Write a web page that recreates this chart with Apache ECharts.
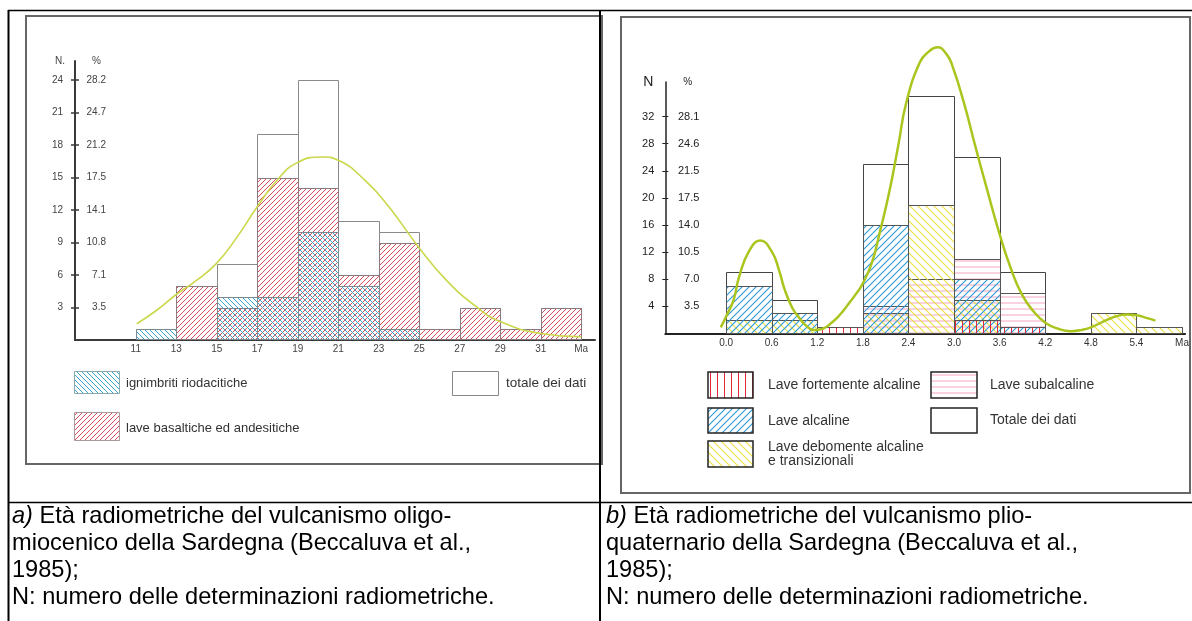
<!DOCTYPE html>
<html><head><meta charset="utf-8">
<script src="https://cdn.jsdelivr.net/npm/echarts@6/dist/echarts.min.js"></script>
<style>html,body{margin:0;padding:0;background:#fff}#c{width:1192px;height:621px}</style>
</head><body><div id="c"></div>
<script>
// ---------- chart a) oligo-miocenico ----------
var aBins = [11, 13, 15, 17, 19, 21, 23, 25, 27, 29, 31];
var aIgnimbriti = [1, 0, 4, 4, 10, 5, 1, 0, 0, 0, 0];
var aBasaltiche = [0, 5, 3, 15, 14, 6, 9, 1, 3, 1, 3];
var aTotale = [1, 5, 7, 19, 24, 11, 10, 1, 3, 1, 3];
var aCurve = [[11.05,1.5],[12,2.7],[13,4.2],[14,5.5],[15,7.1],[16,9.5],[17,12.3],[18,14.8],[19,16.4],[20.2,16.9],[21,16.6],[22.4,14.6],[23.5,12.3],[25,8.5],[26.3,5.6],[27.8,3.1],[29,1.7],[31,0.6],[33,0.3]];
var aXTicks = [11, 13, 15, 17, 19, 21, 23, 25, 27, 29, 31, 33];
var aNTicks = [3, 6, 9, 12, 15, 18, 21, 24];
var aPctLabels = ['3.5', '7.1', '10.8', '14.1', '17.5', '21.2', '24.7', '28.2'];

// ---------- chart b) plio-quaternario ----------
var bBins = [0, 0.6, 1.2, 1.8, 2.4, 3.0, 3.6, 4.2, 4.8, 5.4];
var bFortemente = [0, 0, 1, 0, 0, 2, 1, 0, 0, 0];
var bAlcaline = [7, 3, 0, 16, 0, 8, 1, 0, 0, 0];
var bDebolmente = [2, 2, 0, 3, 19, 5, 0, 0, 3, 1];
var bSubalcaline = [0, 0, 0, 4, 8, 11, 6, 0, 0, 0];
var bTotale = [9, 5, 1, 25, 35, 26, 9, 0, 3, 1];
var bCurve = [[-0.07,0.9],[0,2.5],[0.1,5],[0.17,8.3],[0.3,12.1],[0.45,13.7],[0.6,12.1],[0.7,9.2],[0.77,6.5],[0.87,3.8],[0.95,2.5],[1.05,1.2],[1.16,0.5],[1.27,0.7],[1.38,1.5],[1.5,2.8],[1.6,4.2],[1.7,5.7],[1.8,7.4],[1.92,10.5],[2.02,14.8],[2.15,21],[2.27,28],[2.37,34],[2.55,40],[2.67,41.6],[2.78,42.2],[2.9,41.2],[2.98,39.4],[3.13,34],[3.28,27.6],[3.44,21],[3.59,15],[3.74,9.8],[3.89,5.8],[4.05,3.2],[4.2,1.6],[4.37,0.7],[4.54,0.35],[4.67,0.5],[4.8,0.9],[5.01,2.0],[5.15,2.6],[5.27,2.8],[5.4,2.7],[5.53,2.3],[5.65,1.9]];
var bXTicks = [0, 0.6, 1.2, 1.8, 2.4, 3.0, 3.6, 4.2, 4.8, 5.4, 6.0];
var bNTicks = [4, 8, 12, 16, 20, 24, 28, 32];
var bPctLabels = ['3.5', '7.0', '10.5', '14.0', '17.5', '21.5', '24.6', '28.1'];

var FONT = '"Liberation Sans", Arial, Helvetica, sans-serif';

function hatch(type, color, size, lw) {
  var c = document.createElement('canvas'); c.width = size; c.height = size;
  var g = c.getContext('2d');
  g.clearRect(0, 0, size, size);
  g.strokeStyle = color; g.lineWidth = lw || 1;
  g.beginPath();
  if (type === '/') {
    g.moveTo(0, size); g.lineTo(size, 0);
    g.moveTo(-2, 2); g.lineTo(2, -2);
    g.moveTo(size - 2, size + 2); g.lineTo(size + 2, size - 2);
  } else if (type === '\\') {
    g.moveTo(0, 0); g.lineTo(size, size);
    g.moveTo(size - 2, -2); g.lineTo(size + 2, 2);
    g.moveTo(-2, size - 2); g.lineTo(2, size + 2);
  } else if (type === '|') {
    g.moveTo(size / 2, 0); g.lineTo(size / 2, size);
  } else if (type === '-') {
    g.moveTo(0, size / 2); g.lineTo(size, size / 2);
  }
  g.stroke();
  return { image: c, repeat: 'repeat' };
}

var pBlueA = hatch('\\', '#3ca5cd', 5, 1);
var pRedA = hatch('/', '#d84b5a', 5, 1);
var pRedV = hatch('|', '#e12a3a', 7, 1);
var pBlueB = hatch('/', '#2b9ad8', 7, 1.1);
var pYellow = hatch('\\', '#ebe146', 8, 1.2);
var pPink = hatch('-', '#f2a6c2', 6, 1);

function histSeries(xi, yi, bins, w, vals, fill, stroke, z, name) {
  return {
    type: 'custom', name: name, xAxisIndex: xi, yAxisIndex: yi, z: z, silent: true,
    data: bins.map(function (b, i) { return [b, vals[i]]; }),
    encode: { x: 0, y: 1 },
    renderItem: function (params, api) {
      var x0 = api.value(0), v = api.value(1);
      if (!v) return null;
      var p0 = api.coord([x0, v]), p1 = api.coord([x0 + w, 0]);
      var x = Math.round(p0[0]) + 0.5, y = Math.round(p0[1]) + 0.5;
      var x2 = Math.round(p1[0]) + 0.5, y2 = Math.round(p1[1]) - 0.5;
      return { type: 'rect', shape: { x: x, y: y, width: x2 - x, height: y2 - y },
        style: { fill: fill, stroke: stroke, lineWidth: 1 } };
    }
  };
}

var chart = echarts.init(document.getElementById('c'), null, { renderer: 'canvas' });

var axisLbl = function (color, size) { return { fontFamily: FONT, fontSize: size, color: color }; };

var option = {
  backgroundColor: '#fff',
  animation: false,
  grid: [
    { left: 75, top: 61, width: 520, height: 279 },
    { left: 665.3, top: 82, width: 527.4, height: 251.5 }
  ],
  xAxis: [
    { gridIndex: 0, type: 'value', min: 8, max: 33.68,
      axisLine: { onZero: false, lineStyle: { color: '#3a3a3a', width: 2 } },
      axisTick: { show: false }, splitLine: { show: false },
      axisLabel: Object.assign(axisLbl('#444', 10), { customValues: aXTicks, margin: 4,
        formatter: function (v) { return v === 33 ? 'Ma' : String(v); } }) },
    { gridIndex: 1, type: 'value', min: -0.8, max: 6.04,
      axisLine: { onZero: false, lineStyle: { color: '#222', width: 2 } },
      axisTick: { show: false }, splitLine: { show: false },
      axisLabel: Object.assign(axisLbl('#333', 10), { customValues: bXTicks, margin: 5,
        formatter: function (v) { return Math.abs(v - 6) < 1e-9 ? 'Ma' : v.toFixed(1); } }) }
  ],
  yAxis: [
    { gridIndex: 0, type: 'value', min: 0, max: 25.76, position: 'left',
      name: 'N.', nameLocation: 'end', nameGap: 0,
      nameTextStyle: { fontFamily: FONT, fontSize: 10, color: '#444', align: 'right', verticalAlign: 'middle', padding: [0, 10, 0, 0] },
      axisLine: { show: true, onZero: false, lineStyle: { color: '#3a3a3a', width: 2 } },
      axisTick: { show: true, customValues: aNTicks, length: 4, lineStyle: { color: '#3a3a3a', width: 1.5 } },
      splitLine: { show: false },
      axisLabel: Object.assign(axisLbl('#444', 10), { customValues: aNTicks, margin: 12 }) },
    { gridIndex: 0, type: 'value', min: 0, max: 25.76, position: 'left',
      name: '%', nameLocation: 'end', nameGap: 0,
      nameTextStyle: { fontFamily: FONT, fontSize: 10, color: '#444', align: 'left', verticalAlign: 'middle', padding: [0, 0, 0, 17] },
      axisLine: { show: false, onZero: false },
      axisTick: { show: true, inside: true, customValues: aNTicks, length: 4, lineStyle: { color: '#3a3a3a', width: 1.5 } },
      splitLine: { show: false },
      axisLabel: Object.assign(axisLbl('#444', 10), { customValues: aNTicks, inside: true, align: 'right', margin: 31,
        formatter: function (v) { return aPctLabels[aNTicks.indexOf(v)]; } }) },
    { gridIndex: 1, type: 'value', min: 0, max: 37.09, position: 'left',
      name: 'N', nameLocation: 'end', nameGap: 0,
      nameTextStyle: { fontFamily: FONT, fontSize: 14, color: '#222', align: 'right', verticalAlign: 'middle', padding: [0, 12, 0, 0] },
      axisLine: { show: true, onZero: false, lineStyle: { color: '#222', width: 1.5 } },
      axisTick: { show: true, customValues: bNTicks, length: 3, lineStyle: { color: '#222', width: 1 } },
      splitLine: { show: false },
      axisLabel: Object.assign(axisLbl('#222', 11), { customValues: bNTicks, margin: 11 }) },
    { gridIndex: 1, type: 'value', min: 0, max: 37.09, position: 'left',
      name: '%', nameLocation: 'end', nameGap: 0,
      nameTextStyle: { fontFamily: FONT, fontSize: 10, color: '#222', align: 'left', verticalAlign: 'middle', padding: [5, 0, 0, 18] },
      axisLine: { show: false, onZero: false },
      axisTick: { show: true, inside: true, customValues: bNTicks, length: 3, lineStyle: { color: '#222', width: 1 } },
      splitLine: { show: false },
      axisLabel: Object.assign(axisLbl('#222', 11), { customValues: bNTicks, inside: true, align: 'right', margin: 34,
        formatter: function (v) { return bPctLabels[bNTicks.indexOf(v)]; } }) }
  ],
  series: [
    histSeries(0, 0, aBins, 2, aTotale, '#fff', '#8a8a8a', 2, 'totale dei dati'),
    histSeries(0, 0, aBins, 2, aBasaltiche, pRedA, '#8a7a7e', 3, 'lave basaltiche ed andesitiche'),
    histSeries(0, 0, aBins, 2, aIgnimbriti, pBlueA, '#7a8a90', 4, 'ignimbriti riodacitiche'),
    { type: 'line', xAxisIndex: 0, yAxisIndex: 0, z: 10, data: aCurve, smooth: true, showSymbol: false, silent: true, clip: false,
      lineStyle: { color: '#cbd84c', width: 1.6 } },

    histSeries(1, 2, bBins, 0.6, bTotale, '#fff', '#444', 2, 'Totale dei dati'),
    histSeries(1, 2, bBins, 0.6, bSubalcaline, pPink, '#555', 3, 'Lave subalcaline'),
    histSeries(1, 2, bBins, 0.6, bDebolmente, pYellow, '#555', 4, 'Lave debomente alcaline e transizionali'),
    histSeries(1, 2, bBins, 0.6, bAlcaline, pBlueB, '#555', 5, 'Lave alcaline'),
    histSeries(1, 2, bBins, 0.6, bFortemente, pRedV, '#555', 6, 'Lave fortemente alcaline'),
    { type: 'line', xAxisIndex: 1, yAxisIndex: 2, z: 10, data: bCurve, smooth: true, showSymbol: false, silent: true, clip: false,
      lineStyle: { color: '#acc41e', width: 2.5 } }
  ],
  graphic: [
    // image frames
    { type: 'rect', shape: { x: 26, y: 16, width: 576, height: 448 }, style: { fill: 'none', stroke: '#666', lineWidth: 2 }, z: -1 },
    { type: 'rect', shape: { x: 621, y: 17, width: 569, height: 476 }, style: { fill: 'none', stroke: '#666', lineWidth: 2 }, z: -1 },
    // table lines
    { type: 'line', shape: { x1: 8, y1: 10.5, x2: 1192, y2: 10.5 }, style: { stroke: '#000', lineWidth: 1.5 } },
    { type: 'line', shape: { x1: 8.5, y1: 10, x2: 8.5, y2: 621 }, style: { stroke: '#000', lineWidth: 2 } },
    { type: 'line', shape: { x1: 600, y1: 10, x2: 600, y2: 621 }, style: { stroke: '#000', lineWidth: 2 } },
    { type: 'line', shape: { x1: 8, y1: 502.5, x2: 1192, y2: 502.5 }, style: { stroke: '#000', lineWidth: 1.5 } },

    // legend a
    { type: 'rect', shape: { x: 74.5, y: 371.5, width: 45, height: 22 }, style: { fill: pBlueA, stroke: '#8aa', lineWidth: 1 } },
    { type: 'text', x: 126, y: 383, style: { text: 'ignimbriti riodacitiche', font: '13px ' + FONT, fill: '#333', verticalAlign: 'middle' } },
    { type: 'rect', shape: { x: 74.5, y: 412.5, width: 45, height: 28 }, style: { fill: pRedA, stroke: '#a99', lineWidth: 1 } },
    { type: 'text', x: 126, y: 428, style: { text: 'lave basaltiche ed andesitiche', font: '13px ' + FONT, fill: '#333', verticalAlign: 'middle' } },
    { type: 'rect', shape: { x: 452.5, y: 371.5, width: 46, height: 24 }, style: { fill: '#fff', stroke: '#888', lineWidth: 1 } },
    { type: 'text', x: 506, y: 383, style: { text: 'totale dei dati', font: '13.5px ' + FONT, fill: '#333', verticalAlign: 'middle' } },

    // legend b
    { type: 'rect', shape: { x: 708, y: 372, width: 45, height: 26 }, style: { fill: pRedV, stroke: '#222', lineWidth: 1.5 } },
    { type: 'text', x: 768, y: 385, style: { text: 'Lave fortemente alcaline', font: '14px ' + FONT, fill: '#333', verticalAlign: 'middle' } },
    { type: 'rect', shape: { x: 708, y: 408, width: 45, height: 25 }, style: { fill: pBlueB, stroke: '#222', lineWidth: 1.5 } },
    { type: 'text', x: 768, y: 421, style: { text: 'Lave alcaline', font: '14px ' + FONT, fill: '#333', verticalAlign: 'middle' } },
    { type: 'rect', shape: { x: 708, y: 441, width: 45, height: 26 }, style: { fill: pYellow, stroke: '#222', lineWidth: 1.5 } },
    { type: 'text', x: 768, y: 447, style: { text: 'Lave debomente alcaline', font: '14px ' + FONT, fill: '#333', verticalAlign: 'middle' } },
    { type: 'text', x: 768, y: 461, style: { text: 'e transizionali', font: '14px ' + FONT, fill: '#333', verticalAlign: 'middle' } },
    { type: 'rect', shape: { x: 931, y: 372, width: 46, height: 26 }, style: { fill: pPink, stroke: '#222', lineWidth: 1.5 } },
    { type: 'text', x: 990, y: 385, style: { text: 'Lave subalcaline', font: '14px ' + FONT, fill: '#333', verticalAlign: 'middle' } },
    { type: 'rect', shape: { x: 931, y: 408, width: 46, height: 25 }, style: { fill: '#fff', stroke: '#222', lineWidth: 1.5 } },
    { type: 'text', x: 990, y: 420, style: { text: 'Totale dei dati', font: '14px ' + FONT, fill: '#333', verticalAlign: 'middle' } },

    // captions a
    { type: 'text', x: 12, y: 516, style: { text: '{i|a)} Età radiometriche del vulcanismo oligo-', font: '23.6px ' + FONT, fill: '#000', verticalAlign: 'middle',
      rich: { i: { font: 'italic 23.6px ' + FONT, fill: '#000' } } } },
    { type: 'text', x: 12, y: 543, style: { text: 'miocenico della Sardegna (Beccaluva et al.,', font: '23.6px ' + FONT, fill: '#000', verticalAlign: 'middle' } },
    { type: 'text', x: 12, y: 570, style: { text: '1985);', font: '23.6px ' + FONT, fill: '#000', verticalAlign: 'middle' } },
    { type: 'text', x: 12, y: 597, style: { text: 'N: numero delle determinazioni radiometriche.', font: '23.6px ' + FONT, fill: '#000', verticalAlign: 'middle' } },
    // captions b
    { type: 'text', x: 606, y: 516, style: { text: '{i|b)} Età radiometriche del vulcanismo plio-', font: '23.6px ' + FONT, fill: '#000', verticalAlign: 'middle',
      rich: { i: { font: 'italic 23.6px ' + FONT, fill: '#000' } } } },
    { type: 'text', x: 606, y: 543, style: { text: 'quaternario della Sardegna (Beccaluva et al.,', font: '23.6px ' + FONT, fill: '#000', verticalAlign: 'middle' } },
    { type: 'text', x: 606, y: 570, style: { text: '1985);', font: '23.6px ' + FONT, fill: '#000', verticalAlign: 'middle' } },
    { type: 'text', x: 606, y: 597, style: { text: 'N: numero delle determinazioni radiometriche.', font: '23.6px ' + FONT, fill: '#000', verticalAlign: 'middle' } }
  ]
};
chart.setOption(option);
</script>
</body></html>
